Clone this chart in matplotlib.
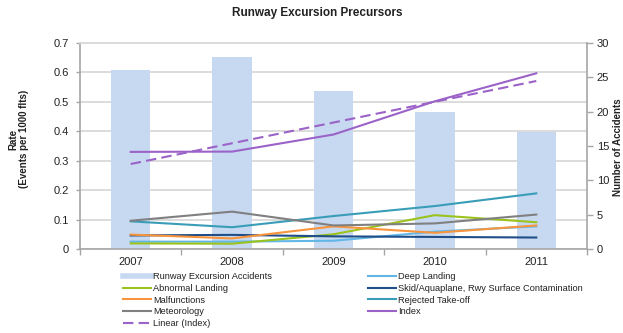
import matplotlib
matplotlib.use('Agg')
import matplotlib.pyplot as plt
from matplotlib.lines import Line2D
import numpy as np

plt.rcParams['font.family'] = ['Liberation Sans', 'DejaVu Sans']

years = ['2007', '2008', '2009', '2010', '2011']
accidents = [26, 28, 23, 20, 17]
deep_landing = [0.025, 0.025, 0.028, 0.059, 0.077]
abnormal_landing = [0.019, 0.018, 0.050, 0.115, 0.091]
skid = [0.046, 0.048, 0.043, 0.041, 0.039]
malfunctions = [0.049, 0.036, 0.077, 0.055, 0.080]
rejected_takeoff = [0.094, 0.074, 0.112, 0.146, 0.189]
meteorology = [0.096, 0.127, 0.080, 0.087, 0.117]
index = [0.330, 0.331, 0.389, 0.502, 0.597]

bar_col = '#C6D9F1'
grid_col = '#D9D9D9'
spine_col = '#A6A6A6'

fig = plt.figure(figsize=(6.23, 3.33), dpi=100)
ax = fig.add_axes([80 / 623, 84 / 333, 507 / 623, 206 / 333])
ax_bar = ax.twinx()
ax_line = ax.twinx()

x = np.arange(len(years))

# bars on the secondary (right) scale
ax_bar.bar(x, accidents, width=0.39, color=bar_col, zorder=2)
ax_bar.set_ylim(0, 30)
ax_bar.set_yticks(range(0, 31, 5))

# precursor rates on the primary (left) scale
series = [
    ('Deep Landing', deep_landing, '#63B7E6'),
    ('Abnormal Landing', abnormal_landing, '#9BC31C'),
    ('Skid/Aquaplane, Rwy Surface Contamination', skid, '#1F4E89'),
    ('Malfunctions', malfunctions, '#F7943C'),
    ('Rejected Take-off', rejected_takeoff, '#3A9DB7'),
    ('Meteorology', meteorology, '#808080'),
]
lines = {}
for name, vals, c in series:
    lines[name] = ax_line.plot(x, vals, color=c, lw=1.5, label=name)[0]

idx_col = '#9B62C8'
lines['Index'] = ax_line.plot(x, index, color=idx_col, lw=1.5)[0]
slope, icpt = np.polyfit(x, index, 1)
lines['Linear (Index)'] = ax_line.plot(x, slope * x + icpt, color=idx_col, lw=1.5,
                                       linestyle=(0, (5, 2.5)))[0]

for a in (ax, ax_line):
    a.set_ylim(0, 0.7)
ax.set_xlim(-0.5, len(years) - 0.5)
ax.set_yticks(np.arange(0, 0.71, 0.1))
ax.set_yticklabels(['0', '0.1', '0.2', '0.3', '0.4', '0.5', '0.6', '0.7'])
ax.grid(axis='y', color=grid_col, lw=1.3)
ax.set_axisbelow(True)

ax.set_xticks(x)
ax.set_xticklabels(years)
ax.set_xticks(np.arange(-0.5, len(years)), minor=True)
ax.tick_params(axis='x', which='major', length=0, pad=6, labelsize=8, colors='#222222')
ax.tick_params(axis='x', which='minor', length=4, width=1, color=spine_col)
ax.tick_params(axis='y', length=3, width=1, color=spine_col, labelsize=8,
               labelcolor='#222222', pad=5)
ax_bar.tick_params(axis='y', length=4, width=1, color=spine_col, labelsize=8,
                   labelcolor='#222222', pad=3)

for a in (ax, ax_bar, ax_line):
    for s in a.spines.values():
        s.set_visible(False)
ax.spines['left'].set_visible(True)
ax.spines['left'].set_color(spine_col)
ax.spines['left'].set_linewidth(1.2)
ax.spines['top'].set_visible(True)
ax.spines['top'].set_color(grid_col)
ax.spines['top'].set_linewidth(1.3)
ax_bar.spines['right'].set_visible(True)
ax_bar.spines['right'].set_color(spine_col)
ax_bar.spines['right'].set_linewidth(1.2)
ax_line.spines['bottom'].set_visible(True)
ax_line.spines['bottom'].set_color(spine_col)
ax_line.spines['bottom'].set_linewidth(1.2)
ax_line.set_yticks([])
ax_line.tick_params(axis='x', which='both', bottom=False, labelbottom=False)
ax_bar.tick_params(axis='x', which='both', bottom=False, labelbottom=False)

fig.text(317 / 623, 1 - 13 / 333, 'Runway Excursion Precursors', ha='center',
         va='center', fontsize=8.5, fontweight='bold', color='#222222')
fig.text(19 / 623, 1 - 139 / 333, 'Rate\n(Events per 1000 flts)', rotation=90,
         ha='center', va='center', fontsize=7, fontweight='bold',
         multialignment='center', linespacing=1.1, color='#222222')
fig.text(618 / 623, 1 - 147 / 333, 'Number of Accidents', rotation=90,
         ha='center', va='center', fontsize=7, fontweight='bold', color='#222222')

bar_handle = Line2D([], [], color=bar_col, lw=4)
col1 = [(bar_handle, 'Runway Excursion Accidents'),
        (lines['Abnormal Landing'], 'Abnormal Landing'),
        (lines['Malfunctions'], 'Malfunctions'),
        (lines['Meteorology'], 'Meteorology'),
        (lines['Linear (Index)'], 'Linear (Index)')]
col2 = [(lines['Deep Landing'], 'Deep Landing'),
        (lines['Skid/Aquaplane, Rwy Surface Contamination'],
         'Skid/Aquaplane, Rwy Surface Contamination'),
        (lines['Rejected Take-off'], 'Rejected Take-off'),
        (lines['Index'], 'Index')]

legend_kw = dict(loc='upper left', frameon=False, fontsize=6.7, handlelength=3,
                 handletextpad=0.25, labelspacing=0.3, borderpad=0,
                 borderaxespad=0, labelcolor='#222222')
leg1 = fig.legend([h for h, _ in col1], [l for _, l in col1],
                  bbox_to_anchor=(123 / 623, 1 - 272 / 333), **legend_kw)
leg2 = fig.legend([h for h, _ in col2], [l for _, l in col2],
                  bbox_to_anchor=(368 / 623, 1 - 272 / 333), **legend_kw)

fig.savefig('out.png', dpi=100)
